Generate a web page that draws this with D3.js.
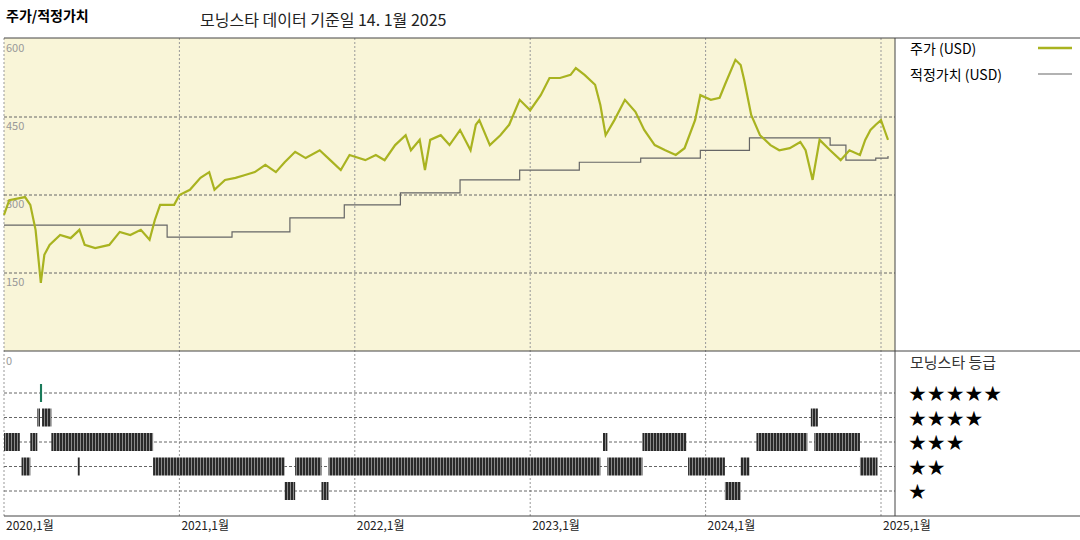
<!DOCTYPE html>
<html><head><meta charset="utf-8">
<script src="https://cdn.jsdelivr.net/npm/d3@7"></script>
<style>body{margin:0;background:#fff;font-family:"Noto Sans CJK KR","DejaVu Sans",sans-serif}</style>
</head><body><svg id="chart" width="1080" height="540"></svg>
<script>
// price (USD), dates as decimal years
var priceDates = [2020.00,2020.03,2020.12,2020.15,2020.18,2020.21,2020.23,2020.26,2020.32,2020.38,2020.43,2020.46,2020.52,2020.60,2020.66,2020.72,2020.78,2020.83,2020.86,2020.89,2020.97,
  2021.00,2021.06,2021.12,2021.17,2021.20,2021.26,2021.32,2021.37,2021.43,2021.49,2021.55,2021.60,2021.66,2021.72,2021.80,2021.86,2021.92,2021.97,
  2022.06,2022.12,2022.17,2022.23,2022.29,2022.32,2022.37,2022.40,2022.43,2022.49,2022.54,2022.60,2022.66,2022.69,2022.71,2022.77,2022.83,2022.88,2022.94,
  2023.00,2023.06,2023.11,2023.17,2023.23,2023.26,2023.31,2023.37,2023.40,2023.43,2023.48,2023.54,2023.60,2023.65,2023.71,2023.77,2023.83,2023.88,2023.94,2023.97,
  2024.03,2024.08,2024.11,2024.17,2024.20,2024.22,2024.26,2024.31,2024.37,2024.42,2024.48,2024.54,2024.57,2024.61,2024.65,2024.71,2024.77,2024.82,2024.88,2024.91,2024.94,2024.97,2025.00,2025.02,2025.04];
var priceValues = [262,290,296,281,233,131,185,204,223,217,233,204,198,204,229,223,233,214,252,281,281,
  300,310,333,344,310,329,333,338,344,358,344,363,383,371,386,367,348,377,
  367,377,367,396,415,386,406,348,406,415,396,425,386,435,444,396,415,435,483,
  463,492,525,525,531,544,531,512,473,415,444,483,460,425,396,386,377,390,444,492,
  483,487,512,560,550,521,454,415,396,386,390,402,386,329,406,386,367,386,377,406,425,435,444,425,406];
// fair value steps
var fairDates = [2020.00,2020.93,2021.30,2021.63,2021.94,2022.26,2022.60,2022.94,2023.28,2023.63,2023.97,2024.25,2024.71,2024.80,2024.97,2025.04];
var fairValues = [242,219,229,256,281,304,329,348,363,371,386,410,396,367,371,375];
// star rating periods
var ratingStars = [5,4,4,4,3,3,3,3,3,3,3,2,2,2,2,2,2,2,2,2,1,1,1];
var ratingStart = [2020.205,2020.19,2020.217,2024.60,2020.00,2020.15,2020.27,2023.415,2023.64,2024.29,2024.62,2020.10,2020.42,2020.85,2021.66,2021.85,2023.44,2023.90,2024.20,2024.88,2021.60,2021.81,2024.11];
var ratingEnd   = [2020.217,2020.205,2020.27,2024.64,2020.09,2020.19,2020.85,2023.44,2023.89,2024.58,2024.88,2020.15,2020.43,2021.60,2021.81,2023.40,2023.64,2024.11,2024.25,2024.98,2021.66,2021.85,2024.20];
var yearTicks = [2020,2021,2022,2023,2024,2025];
var priceTicks = [0,150,300,450,600];

var svg = d3.select("#chart");
var x = d3.scaleLinear().domain([2020,2025]).range([4,881]);
var y = d3.scaleLinear().domain([0,600]).range([351,39]);
var yr = d3.scaleLinear().domain([5,1]).range([393,491]);
var right = 895;

// stripes pattern for rating bars
var pat = svg.append("defs").append("pattern").attr("id","hatch").attr("patternUnits","userSpaceOnUse").attr("width",3).attr("height",10);
pat.append("rect").attr("width",3).attr("height",10).attr("fill","#2a2a2a");
pat.append("rect").attr("x",2).attr("width",1).attr("height",10).attr("fill","#8a8a8a");

svg.append("rect").attr("x",4).attr("y",38).attr("width",right-4).attr("height",313).attr("fill","#f9f5d8");

// titles
svg.append("text").attr("x",6).attr("y",21).attr("font-size",14).attr("font-weight","bold").text("주가/적정가치");
svg.append("text").attr("x",200).attr("y",26).attr("font-size",16).attr("fill","#222").text("모닝스타 데이터 기준일 14. 1월 2025");

// grid
yearTicks.forEach(function(t){
  svg.append("line").attr("x1",x(t)).attr("x2",x(t)).attr("y1",38).attr("y2",516)
    .attr("stroke","#999").attr("stroke-dasharray","2,2");
  svg.append("text").attr("x",x(t)+2).attr("y",530).attr("font-size",12).attr("fill","#222").text(t+",1월");
});
priceTicks.forEach(function(t){
  if (t>0 && t<600) svg.append("line").attr("x1",4).attr("x2",right).attr("y1",y(t)).attr("y2",y(t))
    .attr("stroke","#666").attr("stroke-dasharray","3,2");
  svg.append("text").attr("x",6).attr("y",y(t)+(t==0?14:13)).attr("font-size",11).attr("fill","#999").text(t);
});
[5,4,3,2,1].forEach(function(s){
  svg.append("line").attr("x1",4).attr("x2",right).attr("y1",yr(s)).attr("y2",yr(s))
    .attr("stroke","#666").attr("stroke-dasharray","3,2");
});

// frame
svg.append("line").attr("x1",4).attr("x2",1080).attr("y1",38).attr("y2",38).attr("stroke","#444");
svg.append("line").attr("x1",4).attr("x2",1080).attr("y1",351).attr("y2",351).attr("stroke","#444");
svg.append("line").attr("x1",4).attr("x2",1080).attr("y1",516).attr("y2",516).attr("stroke","#444");
svg.append("line").attr("x1",right).attr("x2",right).attr("y1",38).attr("y2",516).attr("stroke","#444");

// fair value
var fairData = fairDates.map(function(d,i){return [d,fairValues[i]];});
svg.append("path").datum(fairData).attr("fill","none").attr("stroke","#666").attr("stroke-width",1.2)
  .attr("d", d3.line().x(function(d){return x(d[0]);}).y(function(d){return y(d[1]);}).curve(d3.curveStepAfter));

// price
var priceData = priceDates.map(function(d,i){return [d,priceValues[i]];});
svg.append("path").datum(priceData).attr("fill","none").attr("stroke","#a9b320").attr("stroke-width",2.2)
  .attr("d", d3.line().x(function(d){return x(d[0]);}).y(function(d){return y(d[1]);}));

// rating bars
ratingStars.forEach(function(s,i){
  var w = Math.max(2, x(ratingEnd[i])-x(ratingStart[i]));
  svg.append("rect").attr("x",x(ratingStart[i])).attr("y",yr(s)-9).attr("width",w).attr("height",18)
    .attr("fill", s==5 ? "#1a7a5a" : "url(#hatch)");
});

// legend
svg.append("text").attr("x",910).attr("y",54).attr("font-size",14).text("주가 (USD)");
svg.append("line").attr("x1",1038).attr("x2",1072).attr("y1",48).attr("y2",48).attr("stroke","#a9b320").attr("stroke-width",2.5);
svg.append("text").attr("x",910).attr("y",80).attr("font-size",14).text("적정가치 (USD)");
svg.append("line").attr("x1",1038).attr("x2",1072).attr("y1",74).attr("y2",74).attr("stroke","#666").attr("stroke-width",1.2);
svg.append("text").attr("x",910).attr("y",368).attr("font-size",15).attr("fill","#333").text("모닝스타 등급");
[5,4,3,2,1].forEach(function(s){
  svg.append("text").attr("x",908).attr("y",yr(s)+8).attr("font-size",21).attr("font-family","DejaVu Sans")
    .text(d3.range(s).map(function(){return "★";}).join(""));
});
</script></body></html>
